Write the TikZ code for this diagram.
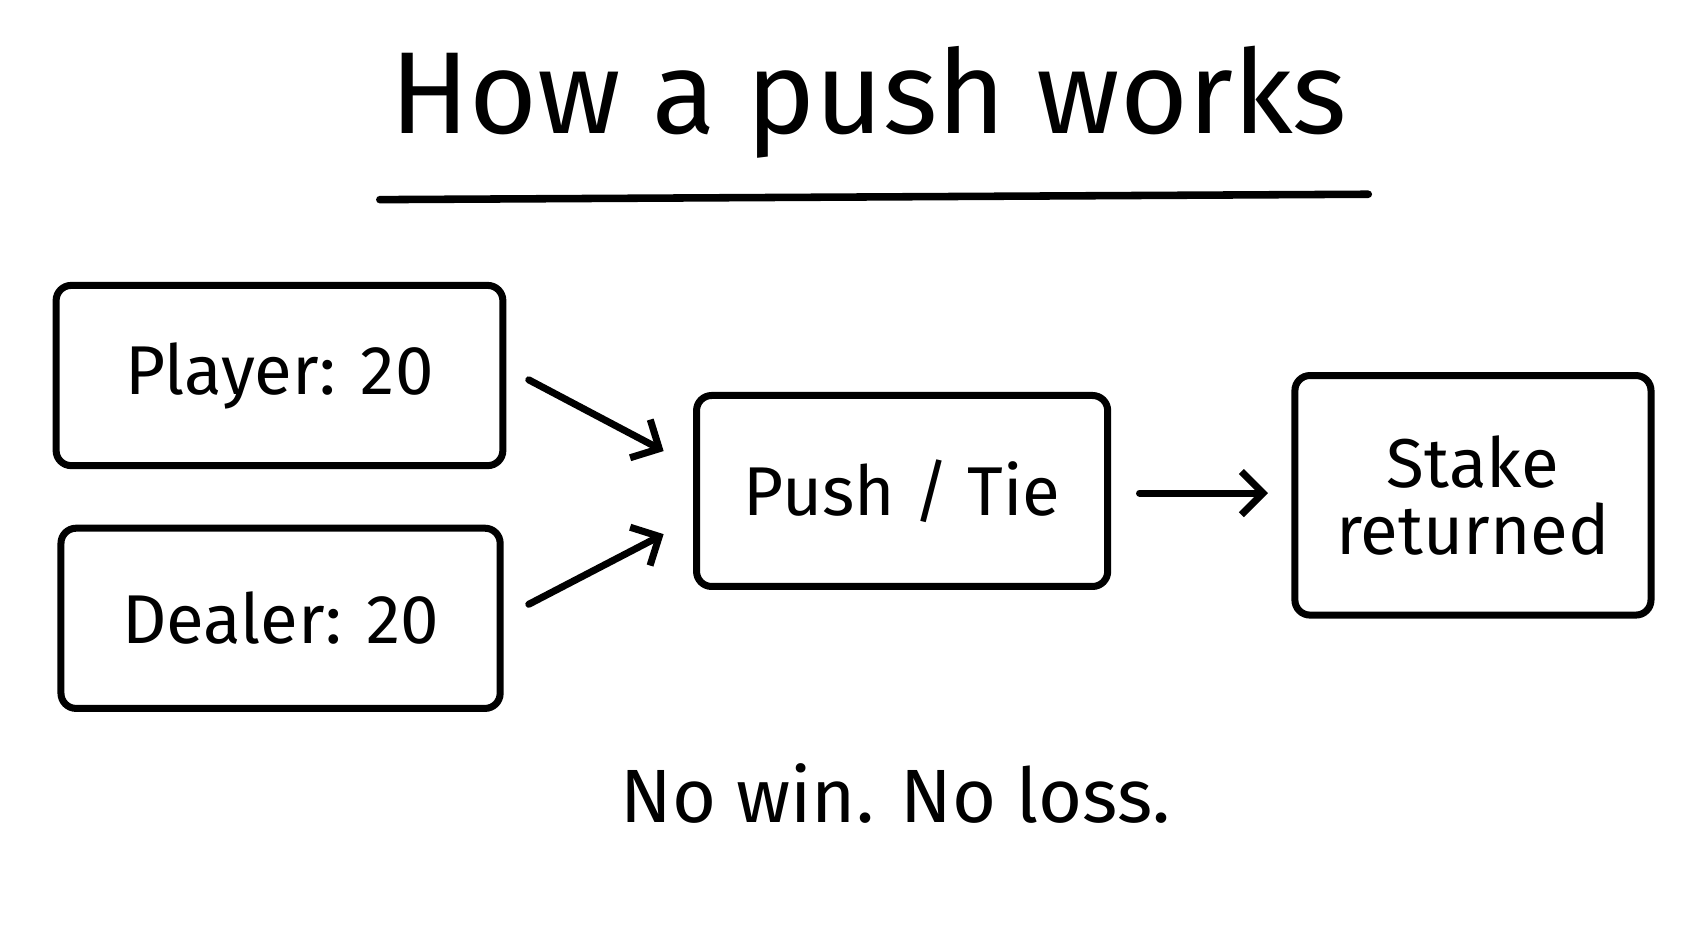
\documentclass[tikz,border=0pt]{standalone}
\usepackage{fontspec}
\setmainfont{Fira Sans}
\usetikzlibrary{arrows.meta}
\begin{document}
\begin{tikzpicture}[x=1pt,y=-1pt,
  box/.style={draw,line width=6.5pt,rounded corners=14pt,inner sep=0pt},
  lbl/.style={font=\fontsize{64}{70}\selectfont,align=center},
  arr/.style={line width=6.5pt,line cap=round,-{Straight Barb[length=20pt,width=40pt,line width=6.5pt]}}]
\useasboundingbox (0,0) rectangle (1568,861);
\node[font=\fontsize{108}{120}\selectfont] (title) at (805,95) {How a push works};
\coordinate (u1) at (352,185); \coordinate (u2) at (1268,180);
\draw[line width=7pt,line cap=round] (u1) -- (u2);
\node[box,minimum width=414pt,minimum height=167pt] (p) at (259,348) {};
\node[lbl] (pt) at (p) {Player: 20};
\node[box,minimum width=407pt,minimum height=167pt] (d) at (260,573) {};
\node[lbl] (dt) at (d) {Dealer: 20};
\node[box,minimum width=381pt,minimum height=177pt] (t) at (836,455) {};
\node[lbl] (tt) at (t) {Push / Tie};
\node[box,minimum width=330pt,minimum height=222pt] (s) at (1365,459) {};
\node[lbl] (st) at (s) {Stake\\[-8pt]returned};
\coordinate (a1) at (490,352); \coordinate (a1e) at (615,418);
\coordinate (a2) at (490,560); \coordinate (a2e) at (615,495);
\coordinate (a3) at (1056,457); \coordinate (a3e) at (1175,457);
\draw[arr] (a1) -- (a1e);
\draw[arr] (a2) -- (a2e);
\draw[arr] (a3) -- (a3e);
\node[font=\fontsize{70}{76}\selectfont] (bottom) at (830,735) {No win. No loss.};
\end{tikzpicture}
\end{document}
